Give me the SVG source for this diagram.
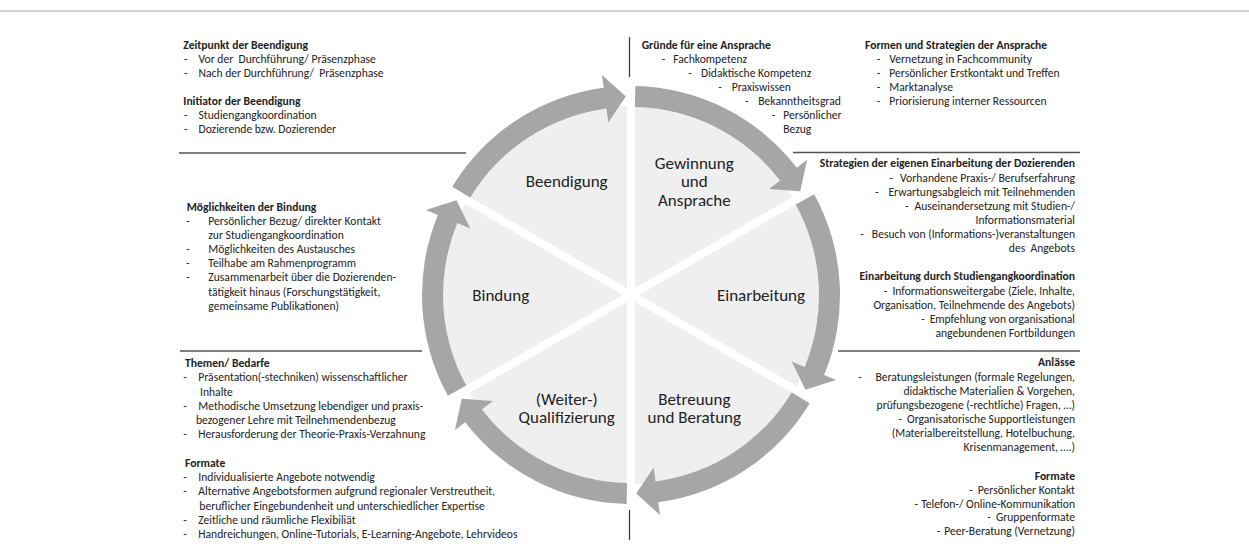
<svg xmlns="http://www.w3.org/2000/svg" xmlns:xlink="http://www.w3.org/1999/xlink" width="1249" height="558" viewBox="0 0 1249 558">
<style>
text{font-family:Carlito,Calibri,Lato,"Liberation Sans",sans-serif;fill:#222}
.t{font-size:11.6px}
.b{font-weight:bold}
.pre{white-space:pre}
.lbl{font-size:17px;text-anchor:middle}
.r{text-anchor:end}
.rule{stroke:#555;stroke-width:1.3;fill:none}
.vrule{stroke:#333;stroke-width:1.2}
.sep{stroke:#fff;stroke-width:8}
.ring{fill:#a6a6a6}
</style>
<defs>
<path id="seg" d="M 635.38 86.05 A 209 209 0 0 1 796.81 167.77 L 807.12 159.86 L 800.25 191.28 L 769.04 189.08 L 780.15 180.55 A 188 188 0 0 0 634.94 107.04 Z"/>
</defs>
<rect width="1249" height="558" fill="#fff"/>
<line x1="0" y1="11" x2="1249" y2="11" stroke="#c4c4c4" stroke-width="1.5"/>
<g id="frame">
<line class="vrule" x1="629.5" y1="37" x2="629.5" y2="77"/>
<line class="vrule" x1="629.5" y1="510" x2="629.5" y2="540"/>
<line class="rule" x1="179" y1="153" x2="466" y2="153"/>
<line class="rule" x1="180" y1="351" x2="422" y2="351"/>
<line class="rule" x1="793" y1="152.5" x2="1080" y2="152.5"/>
<line class="rule" x1="838" y1="351" x2="1080" y2="351"/>
</g>
<g id="disk">
<circle cx="631" cy="295" r="189" fill="#efefef"/>
<line class="sep" x1="631" y1="100" x2="631" y2="490"/>
<line class="sep" x1="466.5" y1="200" x2="795.5" y2="390"/>
<line class="sep" x1="466.5" y1="390" x2="795.5" y2="200"/>
</g>
<g id="connectors">
<use xlink:href="#seg" class="ring"/>
<use xlink:href="#seg" class="ring" transform="rotate(60 631 295)"/>
<use xlink:href="#seg" class="ring" transform="rotate(120 631 295)"/>
<use xlink:href="#seg" class="ring" transform="rotate(180 631 295)"/>
<use xlink:href="#seg" class="ring" transform="rotate(240 631 295)"/>
<use xlink:href="#seg" class="ring" transform="rotate(300 631 295)"/>
</g>
<g id="gewinnung">
<text class="lbl" x="694.3" y="169">Gewinnung</text>
<text class="lbl" x="694.3" y="187.3">und</text>
<text class="lbl" x="694.3" y="205.6">Ansprache</text>
</g>
<g id="einarbeitung">
<text class="lbl" x="761" y="300.7">Einarbeitung</text>
</g>
<g id="betreuung">
<text class="lbl" x="694.3" y="405">Betreuung</text>
<text class="lbl" x="694.3" y="423.3">und Beratung</text>
</g>
<g id="qualifizierung">
<text class="lbl" x="566.7" y="405">(Weiter-)</text>
<text class="lbl" x="566.7" y="423.3">Qualifizierung</text>
</g>
<g id="bindung">
<text class="lbl" x="500.7" y="300.7">Bindung</text>
</g>
<g id="beendigung">
<text class="lbl" x="566.7" y="187">Beendigung</text>
</g>
<g id="notes-beendigung">
<text class="t b" x="183.3" y="48.5">Zeitpunkt der Beendigung</text>
<text class="t" x="184" y="63">-</text><text class="t pre" x="198.5" y="63">Vor der  Durchführung/ Präsenzphase</text>
<text class="t" x="184" y="77">-</text><text class="t pre" x="198.5" y="77">Nach der Durchführung/  Präsenzphase</text>
<text class="t b" x="183.3" y="104.5">Initiator der Beendigung</text>
<text class="t" x="184" y="119">-</text><text class="t" x="198.5" y="119">Studiengangkoordination</text>
<text class="t" x="184" y="133">-</text><text class="t" x="198.5" y="133">Dozierende bzw. Dozierender</text>
</g>
<g id="notes-gewinnung">
<text class="t b" x="641.7" y="48.5">Gründe für eine Ansprache</text>
<text class="t" x="661.7" y="63">-</text><text class="t" x="673.3" y="63">Fachkompetenz</text>
<text class="t" x="688.3" y="77">-</text><text class="t" x="701" y="77">Didaktische Kompetenz</text>
<text class="t" x="718.3" y="91">-</text><text class="t" x="731.7" y="91">Praxiswissen</text>
<text class="t" x="745" y="105">-</text><text class="t" x="758.3" y="105">Bekanntheitsgrad</text>
<text class="t" x="771.7" y="119">-</text><text class="t" x="783.3" y="119">Persönlicher</text>
<text class="t" x="783.3" y="133">Bezug</text>
<text class="t b" x="865" y="48.5">Formen und Strategien der Ansprache</text>
<text class="t" x="876.7" y="63">-</text><text class="t" x="889.3" y="63">Vernetzung in Fachcommunity</text>
<text class="t" x="876.7" y="77">-</text><text class="t" x="889.3" y="77">Persönlicher Erstkontakt und Treffen</text>
<text class="t" x="876.7" y="91">-</text><text class="t" x="889.3" y="91">Marktanalyse</text>
<text class="t" x="876.7" y="105">-</text><text class="t" x="889.3" y="105">Priorisierung interner Ressourcen</text>
</g>
<g id="notes-einarbeitung">
<text class="t b r" x="1075" y="167">Strategien der eigenen Einarbeitung der Dozierenden</text>
<text class="t r" x="1075" y="182">-<tspan dx="7">Vorhandene Praxis-/ Berufserfahrung</tspan></text>
<text class="t r" x="1075" y="196">-<tspan dx="10">Erwartungsabgleich mit Teilnehmenden</tspan></text>
<text class="t r" x="1075" y="210">-<tspan dx="6">Auseinandersetzung mit Studien-/</tspan></text>
<text class="t r" x="1075" y="224">Informationsmaterial</text>
<text class="t r" x="1075" y="238">-<tspan dx="8">Besuch von (Informations-)veranstaltungen</tspan></text>
<text class="t r pre" x="1075" y="252">des  Angebots</text>
<text class="t b r" x="1075" y="280">Einarbeitung durch Studiengangkoordination</text>
<text class="t r" x="1075" y="295">-<tspan dx="5">Informationsweitergabe (Ziele, Inhalte,</tspan></text>
<text class="t r" x="1075" y="309">Organisation, Teilnehmende des Angebots)</text>
<text class="t r" x="1075" y="323">-<tspan dx="5">Empfehlung von organisational</tspan></text>
<text class="t r" x="1075" y="337">angebundenen Fortbildungen</text>
</g>
<g id="notes-betreuung">
<text class="t b r" x="1075" y="366">Anlässe</text>
<text class="t r" x="1075" y="381">-<tspan dx="14">Beratungsleistungen (formale Regelungen,</tspan></text>
<text class="t r" x="1075" y="394.5">didaktische Materialien &amp; Vorgehen,</text>
<text class="t r" x="1075" y="408.5">prüfungsbezogene (-rechtliche) Fragen, …)</text>
<text class="t r" x="1075" y="422.5">-<tspan dx="5">Organisatorische Supportleistungen</tspan></text>
<text class="t r" x="1075" y="437">(Materialbereitstellung, Hotelbuchung,</text>
<text class="t r" x="1075" y="451">Krisenmanagement, ….)</text>
<text class="t b r" x="1075" y="479.5">Formate</text>
<text class="t r" x="1075" y="494">-<tspan dx="5">Persönlicher Kontakt</tspan></text>
<text class="t r" x="1075" y="507.5">-<tspan dx="3">Telefon-/ Online-Kommunikation</tspan></text>
<text class="t r" x="1075" y="521">-<tspan dx="5">Gruppenformate</tspan></text>
<text class="t r" x="1075" y="535">-<tspan dx="4">Peer-Beratung (Vernetzung)</tspan></text>
</g>
<g id="notes-bindung">
<text class="t b" x="186.7" y="210.5">Möglichkeiten der Bindung</text>
<text class="t" x="186" y="225">-</text><text class="t" x="208.3" y="225">Persönlicher Bezug/ direkter Kontakt</text>
<text class="t" x="208.3" y="239">zur Studiengangkoordination</text>
<text class="t" x="186" y="253">-</text><text class="t" x="208.3" y="253">Möglichkeiten des Austausches</text>
<text class="t" x="186" y="267">-</text><text class="t" x="208.3" y="267">Teilhabe am Rahmenprogramm</text>
<text class="t" x="186" y="281">-</text><text class="t" x="208.3" y="281">Zusammenarbeit über die Dozierenden-</text>
<text class="t" x="208.3" y="295.5">tätigkeit hinaus (Forschungstätigkeit,</text>
<text class="t" x="208.3" y="309.5">gemeinsame Publikationen)</text>
</g>
<g id="notes-qualifizierung">
<text class="t b" x="185" y="366.5">Themen/ Bedarfe</text>
<text class="t" x="183.3" y="381">-</text><text class="t" x="198.3" y="381">Präsentation(-stechniken) wissenschaftlicher</text>
<text class="t" x="200" y="395.5">Inhalte</text>
<text class="t" x="183.3" y="409.5">-</text><text class="t" x="198.3" y="409.5">Methodische Umsetzung lebendiger und praxis-</text>
<text class="t" x="196" y="423.8">bezogener Lehre mit Teilnehmendenbezug</text>
<text class="t" x="183.3" y="438">-</text><text class="t" x="198.3" y="438">Herausforderung der Theorie-Praxis-Verzahnung</text>
<text class="t b" x="185" y="466.5">Formate</text>
<text class="t" x="183.3" y="480.5">-</text><text class="t" x="198.3" y="480.5">Individualisierte Angebote notwendig</text>
<text class="t" x="183.3" y="495">-</text><text class="t" x="198.3" y="495">Alternative Angebotsformen aufgrund regionaler Verstreutheit,</text>
<text class="t" x="199.3" y="509.5">beruflicher Eingebundenheit und unterschiedlicher Expertise</text>
<text class="t" x="183.3" y="524">-</text><text class="t" x="198.3" y="524">Zeitliche und räumliche Flexibiliät</text>
<text class="t" x="183.3" y="538">-</text><text class="t" x="198.3" y="538">Handreichungen, Online-Tutorials, E-Learning-Angebote, Lehrvideos</text>
</g>
</svg>
